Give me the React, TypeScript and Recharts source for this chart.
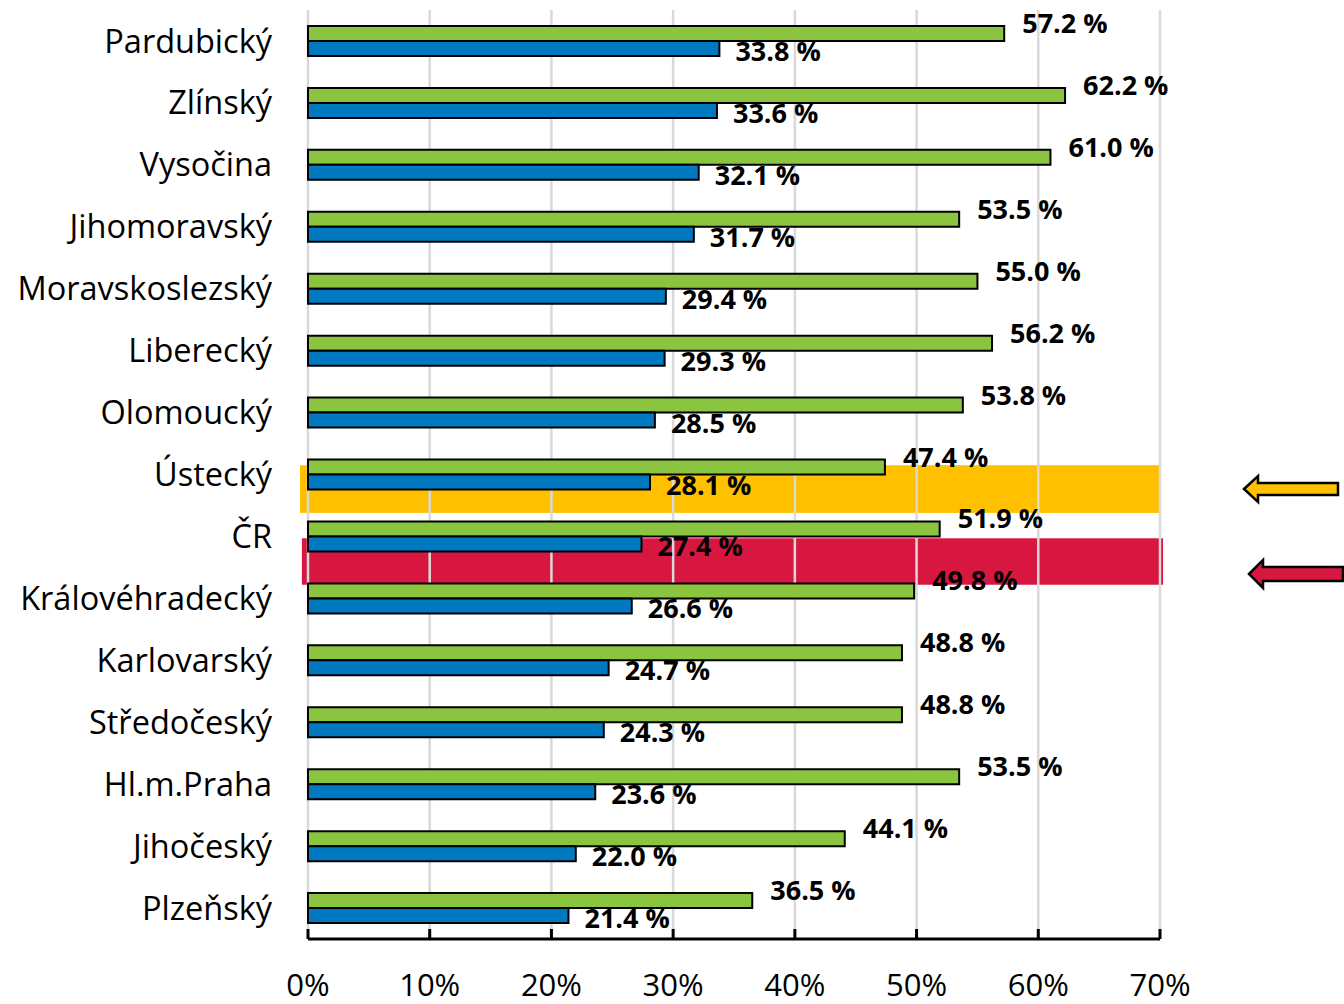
import React from 'react';
import { BarChart, Bar, XAxis, YAxis, CartesianGrid, LabelList } from 'recharts';

const regions = [
  'Pardubický', 'Zlínský', 'Vysočina', 'Jihomoravský', 'Moravskoslezský', 'Liberecký', 'Olomoucký',
  'Ústecký', 'ČR', 'Královéhradecký', 'Karlovarský', 'Středočeský', 'Hl.m.Praha', 'Jihočeský', 'Plzeňský',
];
const greenValues = [57.2, 62.2, 61.0, 53.5, 55.0, 56.2, 53.8, 47.4, 51.9, 49.8, 48.8, 48.8, 53.5, 44.1, 36.5];
const blueValues = [33.8, 33.6, 32.1, 31.7, 29.4, 29.3, 28.5, 28.1, 27.4, 26.6, 24.7, 24.3, 23.6, 22.0, 21.4];
const xTicks = [0, 10, 20, 30, 40, 50, 60, 70];

// highlight bands (category-index units vertically, percent units horizontally)
const bands = [
  { y1: 7.35, y2: 8.12, x1: -0.66, x2: 70, color: '#FFC000' },
  { y1: 8.53, y2: 9.28, x1: -0.5, x2: 70.25, color: '#D71740' },
];

const data = regions.map((name, i) => ({ name, green: greenValues[i], blue: blueValues[i] }));

const W = 1344;
const H = 1004;
const M = { top: 10, right: 184, bottom: 0, left: 0 };
const Y_AXIS_W = 308;
const X_AXIS_H = 65;
const X_MAX = 70;
const plotLeft = M.left + Y_AXIS_W;
const plotRight = W - M.right;
const plotTop = M.top;
const plotBottom = H - M.bottom - X_AXIS_H;
const bandH = (plotBottom - plotTop) / regions.length;
const xPx = (v: number) => plotLeft + (v / X_MAX) * (plotRight - plotLeft);
const yPx = (v: number) => plotTop + v * bandH;

const FONT = '"Open Sans", "Noto Sans", sans-serif';

const makeLabel = (dx: number, dy: number) => (props: any) => {
  const { x, y, width, height, value } = props;
  return (
    <text
      x={Number(x) + Number(width) + dx}
      y={Number(y) + Number(height) / 2 + dy}
      dominantBaseline="central"
      fontFamily={FONT}
      fontWeight={700}
      fontSize={27}
      fill="#000"
    >
      {Number(value).toFixed(1)} %
    </text>
  );
};

const Arrow = ({ tipX, tipY, headBackX, endX, headHalf, bodyHalf, color }: any) => {
  const pts = [
    [tipX, tipY],
    [headBackX, tipY - headHalf],
    [headBackX, tipY - bodyHalf],
    [endX, tipY - bodyHalf],
    [endX, tipY + bodyHalf],
    [headBackX, tipY + bodyHalf],
    [headBackX, tipY + headHalf],
  ]
    .map((p) => p.join(','))
    .join(' ');
  return <polygon points={pts} fill={color} stroke="#000" strokeWidth={2.5} strokeLinejoin="miter" />;
};

export default function App() {
  return (
    <div style={{ position: 'absolute', left: 0, top: 0, width: W, height: H, background: '#fff' }}>
      <svg width={W} height={H} style={{ position: 'absolute', left: 0, top: 0 }}>
        {bands.map((b, i) => (
          <rect
            key={i}
            x={xPx(b.x1)}
            y={yPx(b.y1)}
            width={xPx(b.x2) - xPx(b.x1)}
            height={yPx(b.y2) - yPx(b.y1)}
            fill={b.color}
          />
        ))}
      </svg>
      <div style={{ position: 'absolute', left: 0, top: 0 }}>
        <BarChart
          width={W}
          height={H}
          data={data}
          layout="vertical"
          margin={M}
          barSize={15}
          barGap={0}
        >
          <CartesianGrid horizontal={false} vertical={true} stroke="#d9d9d9" strokeWidth={2.5} />
          <XAxis
            type="number"
            domain={[0, X_MAX]}
            ticks={xTicks}
            tickFormatter={(v) => `${v}%`}
            height={X_AXIS_H}
            axisLine={{ stroke: '#000', strokeWidth: 3 }}
            tickLine={{ stroke: '#000', strokeWidth: 3 }}
            tickSize={-10}
            tickMargin={45}
            tick={{ fontSize: 31, fill: '#000', fontFamily: FONT }}
            interval={0}
          />
          <YAxis
            type="category"
            dataKey="name"
            width={Y_AXIS_W}
            axisLine={false}
            tickLine={false}
            tickMargin={30}
            interval={0}
            tick={{ fontSize: 32.5, fill: '#000', fontFamily: FONT }}
          />
          <Bar dataKey="green" fill="#8BC540" stroke="#000" strokeWidth={2} isAnimationActive={false}>
            <LabelList dataKey="green" content={makeLabel(18, -11)} />
          </Bar>
          <Bar dataKey="blue" fill="#0079C1" stroke="#000" strokeWidth={2} isAnimationActive={false}>
            <LabelList dataKey="blue" content={makeLabel(16, 2)} />
          </Bar>
        </BarChart>
      </div>
      <svg width={W} height={H} style={{ position: 'absolute', left: 0, top: 0, pointerEvents: 'none' }}>
        <Arrow tipX={1244} tipY={489} headBackX={1258} endX={1338} headHalf={13} bodyHalf={6} color="#FFC000" />
        <Arrow tipX={1249} tipY={574} headBackX={1263} endX={1343} headHalf={14} bodyHalf={7} color="#D71740" />
      </svg>
    </div>
  );
}
